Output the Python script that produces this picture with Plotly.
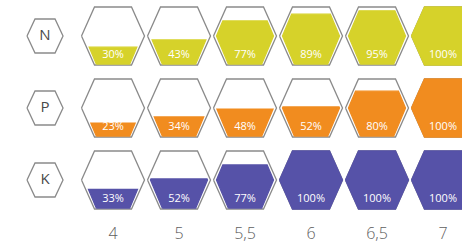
import plotly.graph_objects as go

nutrients = ["N", "P", "K"]
ph_labels = ["4", "5", "5,5", "6", "6,5", "7"]
n_values = [30, 43, 77, 89, 95, 100]
p_values = [23, 34, 48, 52, 80, 100]
k_values = [33, 52, 77, 100, 100, 100]
row_values = [n_values, p_values, k_values]
row_colors = ["#d6d22a", "#f18c1f", "#5652a8"]

# geometry (pixel-ish units converted to axis units)
XPX = 66.0   # px per column unit
YPX = 72.0   # px per row unit
A, B, C = 31.5, 18.5, 29.0     # big hex: half width, half top edge, half height
SA, SB, SC = 18.0, 10.0, 17.0  # small label hex


def hex_pts(cx, cy, a, b, c):
    pts = [(-a, 0), (-b, -c), (b, -c), (a, 0), (b, c), (-b, c), (-a, 0)]
    return ([cx + dx / XPX for dx, dy in pts], [cy - dy / YPX for dx, dy in pts])


def fill_pts(cx, cy, p, a, b, c, inset):
    a2, b2 = a - inset, b - inset * 0.6
    c2 = c - 1.0
    yl = -c2 + p * 2 * c2

    def w(y):
        return a2 - (a2 - b2) * abs(y) / c2

    pts = [(-b2, -c2), (b2, -c2)]
    if yl > 0:
        pts += [(a2, 0), (w(yl), yl), (-w(yl), yl), (-a2, 0)]
    else:
        pts += [(w(yl), yl), (-w(yl), yl)]
    pts.append(pts[0])
    return ([cx + dx / XPX for dx, dy in pts], [cy - dy / YPX for dx, dy in pts])


fig = go.Figure()
for r, (name, vals, col) in enumerate(zip(nutrients, row_values, row_colors)):
    # label hexagon
    xs, ys = hex_pts(-0.03, r, SA, SB, SC)
    fig.add_trace(go.Scatter(x=xs, y=ys, mode="lines", line=dict(color="#8a8a8a", width=1.3),
                             hoverinfo="skip", showlegend=False))
    fig.add_trace(go.Scatter(x=[-0.03], y=[r], mode="text", text=[name],
                             textfont=dict(family="Open Sans", size=15, color="#4a4a4a"),
                             hoverinfo="skip", showlegend=False))
    for i, v in enumerate(vals):
        cx = i + 1
        xs, ys = hex_pts(cx, r, A, B, C)
        fig.add_trace(go.Scatter(x=xs, y=ys, mode="lines", line=dict(color="#8a8a8a", width=1.3),
                                 hoverinfo="skip", showlegend=False))
        if v >= 100:
            fx, fy = hex_pts(cx, r, A, B, C)
        else:
            fx, fy = fill_pts(cx, r, v / 100.0, A, B, C, 3.0)
        fig.add_trace(go.Scatter(x=fx, y=fy, mode="lines", fill="toself", fillcolor=col,
                                 line=dict(color=col, width=1.3),
                                 hoverinfo="skip", showlegend=False))
        fig.add_trace(go.Scatter(x=[cx], y=[r + 19.5 / YPX], mode="text", text=[f"{v}%"],
                                 textfont=dict(family="Open Sans", size=11, color="white"),
                                 hoverinfo="skip", showlegend=False))

plot_h = 222
fig.update_layout(
    width=462, height=244,
    margin=dict(l=0, r=0, t=0, b=244 - plot_h, autoexpand=False),
    paper_bgcolor="white", plot_bgcolor="white",
    xaxis=dict(range=[1 - 113 / XPX, 1 + (462 - 113) / XPX], showgrid=False, zeroline=False,
               showline=False, tickmode="array", tickvals=list(range(1, 7)), ticktext=ph_labels,
               ticks="", tickfont=dict(family="Open Sans", size=16, color="#606060", weight=300)),
    yaxis=dict(range=[(plot_h - 36) / YPX, -36 / YPX], showgrid=False, zeroline=False,
               showline=False, showticklabels=False),
)
fig.write_html("out.html", config={"displayModeBar": False},
               post_script="document.body.style.margin='0';document.body.style.overflow='hidden';")
